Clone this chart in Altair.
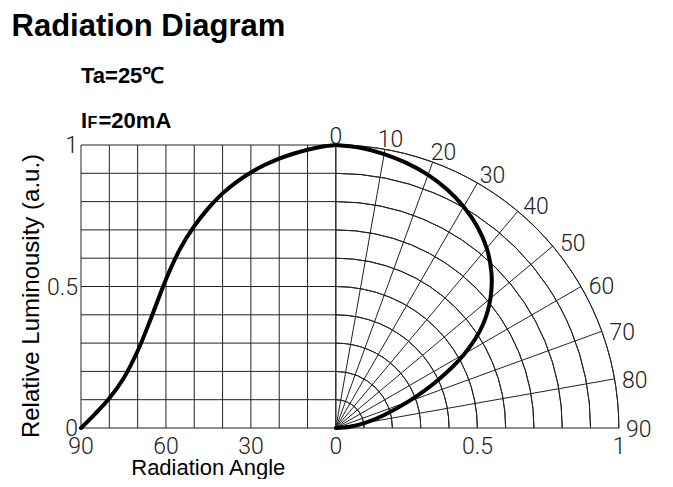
import altair as alt
import pandas as pd

# ---- data ----
angles = [0, 5, 10, 15, 20, 25, 30, 35, 40, 45, 50, 55, 60, 65, 70, 75, 80, 85, 90]
values = [1.0, 0.994, 0.983, 0.969, 0.952, 0.93, 0.903, 0.87, 0.829, 0.777, 0.713, 0.633, 0.525,
          0.395, 0.272, 0.175, 0.105, 0.05, 0.0]

grid_angles = [0, 10, 20, 30, 40, 50, 60, 70, 80, 90]
grid_levels = [0, 0.1, 0.2, 0.3, 0.4, 0.5, 0.6, 0.7, 0.8, 0.9, 1.0]
arc_radii = [0.1, 0.2, 0.3, 0.4, 0.5, 0.6, 0.7, 0.8, 0.9, 1.0]
x_tick_text = ["90", "60", "30", "0", "0.5", "1"]
x_tick_pos = [-0.9, -0.6, -0.3, 0.0, 0.5, 1.0]
y_tick_text = ["0", "0.5", "1"]
y_tick_pos = [0.0, 0.5, 1.0]
polar_label_angles = [0, 10, 20, 30, 40, 50, 60, 70, 80, 90]

W = 538
H = 283
GRID = "#222222"
TICKFONT = "Roboto"

xs = alt.Scale(domain=[-0.9, 1.0], nice=False, zero=False)
ys = alt.Scale(domain=[0, 1], nice=False, zero=False)

# left rectangular grid
vlines = alt.Chart(pd.DataFrame({"a": grid_angles})).transform_calculate(
    u="-datum.a/100", y0="0", y1="1"
).mark_rule(stroke=GRID, strokeWidth=1).encode(
    x=alt.X("u:Q", scale=xs, axis=None),
    y=alt.Y("y0:Q", scale=ys, axis=None),
    y2="y1:Q",
)
hlines = alt.Chart(pd.DataFrame({"v": grid_levels})).transform_calculate(
    x0="-0.9", x1="0"
).mark_rule(stroke=GRID, strokeWidth=1).encode(
    x=alt.X("x0:Q", scale=xs, axis=None),
    x2="x1:Q",
    y=alt.Y("v:Q", scale=ys, axis=None),
)

# polar arcs
arcs = alt.Chart(pd.DataFrame({"r": arc_radii})).mark_arc(
    filled=False, stroke=GRID, strokeWidth=1, theta=0, theta2=3.141592653589793 / 2
).encode(
    x=alt.XDatum(0, type="quantitative", scale=xs, axis=None),
    y=alt.YDatum(0, type="quantitative", scale=ys, axis=None),
    radius=alt.Radius("r:Q", scale=alt.Scale(type="linear", domain=[0, 1], range=[0, H])),
    radius2=alt.Radius2("r:Q"),
)

# polar radial lines
radials = alt.Chart(pd.DataFrame({"a": grid_angles})).transform_calculate(
    ox="0", oy="0", ex="sin(datum.a*PI/180)", ey="cos(datum.a*PI/180)"
).mark_rule(stroke=GRID, strokeWidth=1).encode(
    x=alt.X("ox:Q", scale=xs, axis=None),
    y=alt.Y("oy:Q", scale=ys, axis=None),
    x2="ex:Q",
    y2="ey:Q",
)

curve_df = pd.DataFrame({"a": angles, "v": values})

left_curve = alt.Chart(curve_df).transform_calculate(
    u="-datum.a/100"
).mark_line(interpolate="catmull-rom", stroke="black", strokeWidth=4, strokeCap="round").encode(
    x=alt.X("u:Q", scale=xs, axis=None),
    y=alt.Y("v:Q", scale=ys, axis=None),
    order="u:Q",
)

polar_curve = alt.Chart(curve_df).transform_calculate(
    px="datum.v*sin(datum.a*PI/180)", py="datum.v*cos(datum.a*PI/180)"
).mark_line(interpolate="catmull-rom", stroke="black", strokeWidth=4, strokeCap="round").encode(
    x=alt.X("px:Q", scale=xs, axis=None),
    y=alt.Y("py:Q", scale=ys, axis=None),
    order="a:Q",
)

# tick labels
xlab = alt.Chart(pd.DataFrame({"t": x_tick_text, "p": x_tick_pos})).transform_calculate(
    z="0"
).mark_text(font=TICKFONT, fontWeight=300, fontSize=23, color="#222", align="center",
            baseline="alphabetic", dy=26).encode(
    x=alt.X("p:Q", scale=xs, axis=None),
    y=alt.Y("z:Q", scale=ys, axis=None),
    text="t:N",
)
ylab = alt.Chart(pd.DataFrame({"t": y_tick_text, "p": y_tick_pos})).transform_calculate(
    z="-0.9"
).mark_text(font=TICKFONT, fontWeight=300, fontSize=23, color="#222", align="right",
            baseline="alphabetic", dx=-3, dy=8).encode(
    x=alt.X("z:Q", scale=xs, axis=None),
    y=alt.Y("p:Q", scale=ys, axis=None),
    text="t:N",
)
plab = alt.Chart(pd.DataFrame({"a": polar_label_angles})).transform_calculate(
    rad="datum.a*PI/180",
).transform_calculate(
    rl="1.035 + 0.035*sin(datum.rad)",
    ang="datum.rad + (2*sin(2*datum.rad))*PI/180",
    t="toString(datum.a)",
).transform_calculate(
    lx="datum.rl*sin(datum.ang)", ly="datum.rl*cos(datum.ang)"
).mark_text(font=TICKFONT, fontWeight=300, fontSize=23, color="#222", align="center",
            baseline="alphabetic", dy=8.5).encode(
    x=alt.X("lx:Q", scale=xs, axis=None),
    y=alt.Y("ly:Q", scale=ys, axis=None),
    text="t:N",
)

# annotations
def note(text, x, y, size, weight="normal", angle=0, align="left", baseline="alphabetic"):
    return alt.Chart(pd.DataFrame({"t": [text]})).mark_text(
        font="Liberation Sans", fontSize=size, fontWeight=weight, color="black",
        align=align, baseline=baseline, angle=angle,
    ).encode(x=alt.value(x), y=alt.value(y), text="t:N")

title = note("Radiation Diagram", -69.5, -109.5, 31, "bold")
ta = note("Ta=25℃", 0, -61.7, 22, "bold")
i_part = note("I", 0, -16.7, 22, "bold")
f_part = note("F", 6.5, -16.7, 16, "bold")
rest = note("=20mA", 17.5, -16.7, 22, "bold")
ytitle = note("Relative Luminousity (a.u.)", -42.5, 151, 24, "normal", angle=270, align="center")
xtitle = note("Radiation Angle", 127.3, 329.5, 22, "normal", align="center")

chart = alt.layer(
    vlines, hlines, arcs, radials, left_curve, polar_curve,
    xlab, ylab, plab, title, ta, i_part, f_part, rest, ytitle, xtitle,
).properties(
    width=W, height=H,
    autosize=alt.AutoSizeParams(type="none"),
    padding={"left": 73, "top": 137, "right": 44, "bottom": 51},
    background="white",
).configure_view(strokeWidth=0)

chart.save("out.html", embed_options={"renderer": "svg", "actions": False})
